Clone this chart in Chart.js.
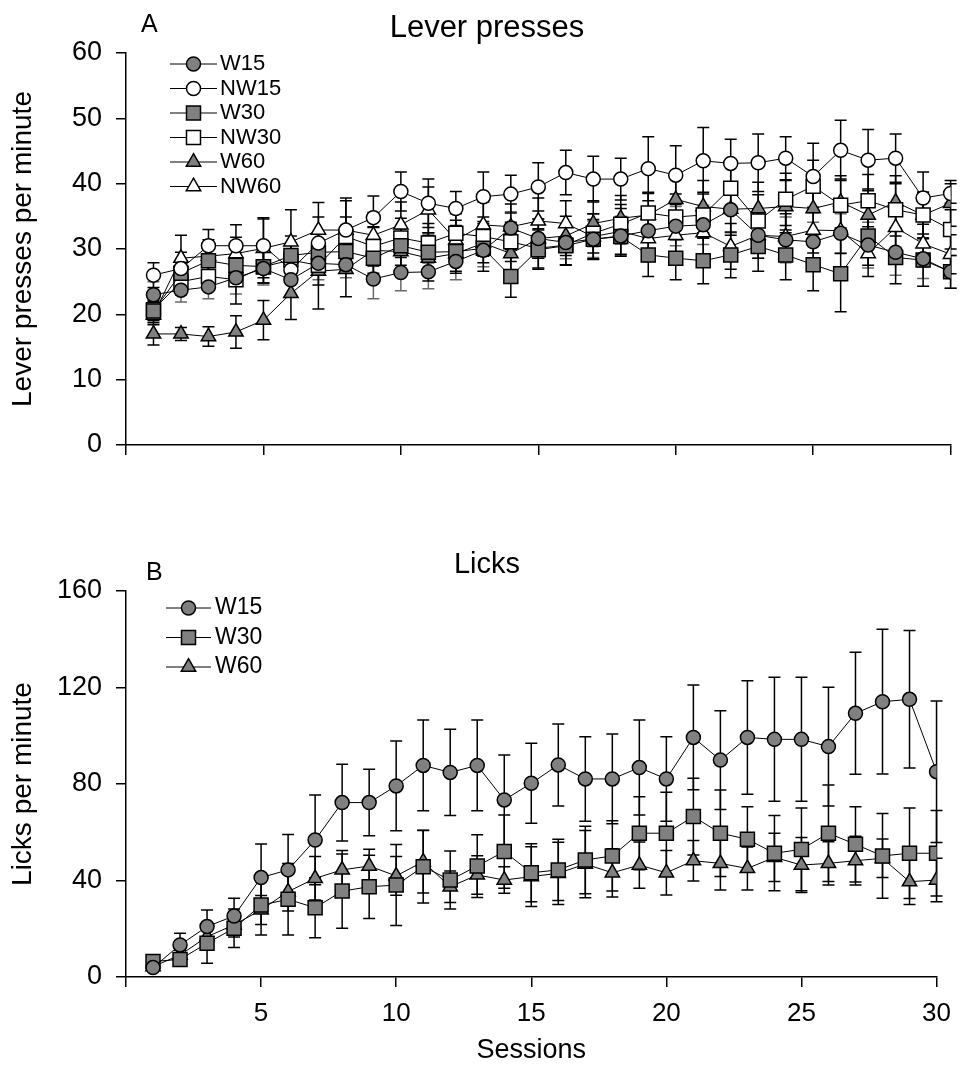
<!DOCTYPE html>
<html>
<head>
<meta charset="utf-8">
<script src="https://cdn.jsdelivr.net/npm/chart.js@4.4.1/dist/chart.umd.min.js"></script>
<style>
  body { margin: 0; background: #fff; }
  #wrap { position: relative; width: 962px; height: 1069px; }
  canvas { position: absolute; left: 0; }
  #leverChart { top: 0; }
  #lickChart { top: 540px; }
</style>
</head>
<body>
<div id="wrap">
  <canvas id="leverChart" width="962" height="480"></canvas>
  <canvas id="lickChart" width="962" height="529"></canvas>
</div>
<script>
// sessions on the x axis
const sessions = [1, 2, 3, 4, 5, 6, 7, 8, 9, 10, 11, 12, 13, 14, 15,
                  16, 17, 18, 19, 20, 21, 22, 23, 24, 25, 26, 27, 28, 29, 30];
const xTicks = [0, 5, 10, 15, 20, 25, 30];
const leverTicks = [0, 10, 20, 30, 40, 50, 60];
const lickTicks = [0, 40, 80, 120, 160];

// A - lever presses per minute (mean, sem)
const leverW15 = [23.0, 23.7, 24.2, 25.6, 27.0, 25.3, 27.8, 27.6, 25.4, 26.4, 26.5, 28.1, 29.8, 33.2, 31.6,
                  31.0, 31.5, 32.0, 32.8, 33.5, 33.7, 36.0, 32.1, 31.4, 31.1, 32.4, 30.6, 29.5, 28.5, 26.5];
const leverW15Sem = [2.0, 1.8, 1.8, 2.5, 2.5, 2.5, 2.5, 2.0, 3.0, 2.8, 2.6, 2.8, 2.5, 2.5, 3.0,
                     2.5, 2.8, 3.0, 3.0, 3.0, 3.0, 3.5, 3.5, 3.5, 3.0, 3.0, 3.5, 3.5, 3.0, 2.5];
const leverNW15 = [26.0, 27.0, 30.5, 30.5, 30.5, 26.8, 30.9, 32.9, 34.8, 38.8, 37.0, 36.2, 38.0, 38.4, 39.5,
                   41.7, 40.7, 40.7, 42.3, 41.3, 43.5, 43.1, 43.2, 43.9, 41.1, 45.1, 43.6, 43.9, 37.8, 38.5];
const leverNW15Sem = [1.9, 2.5, 2.5, 3.2, 4.3, 4.0, 4.0, 4.9, 3.3, 3.0, 3.7, 2.6, 3.8, 2.9, 3.7,
                      3.4, 3.5, 3.2, 4.9, 4.5, 5.1, 3.7, 4.4, 3.3, 5.1, 4.6, 4.7, 3.7, 4.0, 1.5];
const leverW30 = [20.5, 26.3, 28.2, 27.5, 27.3, 29.0, 29.5, 29.6, 28.6, 30.5, 29.5, 29.6, 30.1, 25.8, 29.9,
                  30.5, 31.5, 31.9, 29.1, 28.6, 28.2, 29.1, 30.4, 29.1, 27.6, 26.2, 32.0, 28.7, 28.3, 26.5];
const leverW30Sem = [1.5, 2.0, 2.5, 3.0, 2.5, 3.0, 3.0, 3.0, 3.0, 3.0, 3.0, 3.0, 3.5, 3.2, 3.0,
                     3.0, 3.0, 3.0, 3.3, 3.3, 3.5, 3.5, 3.8, 3.8, 4.0, 5.8, 4.5, 4.0, 4.0, 2.5];
const leverNW30 = [20.7, 25.0, 25.8, 25.3, 27.3, 28.3, 27.5, 31.9, 30.4, 31.7, 30.9, 32.4, 31.9, 31.1, 30.1,
                   30.6, 32.4, 33.8, 35.5, 34.9, 35.2, 39.3, 34.3, 37.6, 39.6, 36.7, 37.4, 36.0, 35.2, 33.0];
const leverNW30Sem = [1.5, 2.0, 2.0, 3.7, 2.5, 2.5, 3.0, 3.0, 3.0, 3.0, 3.0, 3.0, 3.0, 3.0, 3.0,
                      3.0, 3.0, 3.0, 3.0, 3.5, 3.5, 4.0, 4.0, 4.0, 4.0, 4.0, 4.0, 4.0, 3.5, 3.0];
const leverW60 = [17.0, 17.0, 16.6, 17.3, 19.1, 23.2, 26.6, 26.9, 29.8, 29.6, 28.6, 29.3, 30.9, 29.3, 31.6,
                  32.0, 33.9, 34.7, 35.2, 37.6, 36.5, 36.1, 36.2, 36.5, 36.2, 37.2, 35.2, 37.2, 35.2, 37.0];
const leverW60Sem = [1.7, 1.0, 1.5, 2.5, 3.0, 4.0, 5.8, 4.2, 3.5, 3.5, 3.5, 3.0, 3.0, 3.0, 3.0,
                     3.0, 3.5, 3.5, 3.5, 3.8, 4.0, 4.0, 4.0, 4.0, 4.0, 4.0, 4.0, 4.0, 3.5, 3.5];
const leverNW60 = [19.9, 28.6, 28.9, 29.3, 30.1, 31.1, 32.9, 32.9, 32.1, 33.7, 36.0, 31.4, 33.7, 33.4, 34.3,
                   33.9, 31.9, 32.7, 31.6, 32.1, 32.5, 30.4, 32.1, 31.9, 32.9, 32.8, 29.3, 33.3, 30.8, 29.2];
const leverNW60Sem = [1.5, 3.5, 2.5, 2.5, 4.5, 4.9, 4.2, 4.5, 3.5, 3.5, 3.5, 3.0, 3.5, 3.5, 3.5,
                      3.5, 3.5, 3.5, 3.5, 3.5, 3.5, 3.5, 3.5, 3.5, 3.5, 3.5, 3.5, 3.5, 3.5, 3.0];

// B - licks per minute (mean, sem)
const lickW15 = [3.9, 13.3, 20.9, 25.3, 41.2, 44.4, 56.8, 72.3, 72.3, 79.2, 87.7, 84.8, 87.7, 73.4, 80.3,
                 87.9, 82.1, 82.1, 86.8, 82.1, 99.3, 89.9, 99.3, 98.5, 98.5, 95.5, 109.3, 114.1, 115.1, 85.1];
const lickW15Sem = [1.0, 4.8, 6.9, 7.3, 13.9, 14.7, 18.6, 15.9, 13.8, 18.6, 18.8, 17.9, 18.8, 18.6, 16.6,
                    17.0, 17.5, 18.6, 19.7, 17.5, 21.7, 20.5, 23.5, 25.7, 25.7, 24.6, 25.3, 30.0, 28.5, 29.3];
const lickW30 = [6.4, 7.3, 14.0, 20.2, 29.8, 32.2, 28.7, 35.6, 37.4, 38.1, 45.7, 40.2, 46.0, 52.0, 43.2,
                 44.4, 48.5, 50.2, 59.6, 59.6, 66.5, 59.6, 57.1, 51.3, 52.9, 59.6, 55.0, 50.2, 51.3, 51.3];
const lickW30Sem = [1.0, 2.5, 8.3, 8.0, 12.4, 14.8, 12.4, 15.4, 13.1, 16.8, 15.0, 12.0, 13.0, 15.2, 12.0,
                    12.7, 14.0, 14.6, 15.1, 17.0, 15.9, 17.9, 13.5, 15.6, 17.2, 20.0, 15.6, 17.6, 18.8, 17.7];
const lickW60 = [4.3, 9.1, 16.7, 21.6, 27.8, 35.4, 40.9, 44.4, 46.0, 41.9, 47.8, 37.4, 42.3, 40.2, 41.6,
                 43.0, 46.8, 43.2, 46.4, 43.2, 48.2, 47.1, 45.0, 49.6, 46.4, 47.1, 48.2, 49.2, 39.5, 40.2];
const lickW60Sem = [1.0, 2.0, 3.5, 5.0, 6.0, 8.0, 9.0, 8.0, 7.0, 8.0, 13.0, 6.5, 8.0, 5.5, 12.4,
                    12.9, 13.9, 10.0, 9.6, 9.2, 8.4, 11.0, 8.9, 10.0, 11.4, 9.0, 10.1, 8.0, 9.4, 9.0];

const GREY = '#808080';
const WHITE = '#ffffff';
const FONT = "'Liberation Sans', Arial, sans-serif";

function series(label, values, sem, style, fill, radius, errColor) {
    return {
        label: label,
        data: sessions.map((s, i) => ({ x: s, y: values[i] })),
        errors: sem,
        errorColor: errColor || '#000',
        borderColor: '#000',
        borderWidth: 1,
        pointStyle: style,
        pointRadius: radius,
        pointHoverRadius: radius,
        pointBackgroundColor: fill,
        pointBorderColor: '#000',
        pointBorderWidth: 1.5,
        tension: 0,
        fill: false
    };
}

// error bars drawn under the symbols
const errorBars = {
    id: 'errorBars',
    beforeDatasetsDraw(chart) {
        const ctx = chart.ctx;
        const yScale = chart.scales.y;
        ctx.save();
        ctx.lineWidth = 1.5;
        chart.data.datasets.forEach((ds, di) => {
            const meta = chart.getDatasetMeta(di);
            ctx.strokeStyle = ds.errorColor;
            meta.data.forEach((pt, i) => {
                const v = ds.data[i].y;
                const e = ds.errors[i];
                const top = yScale.getPixelForValue(v + e);
                const bot = yScale.getPixelForValue(v - e);
                ctx.beginPath();
                ctx.moveTo(pt.x, top);
                ctx.lineTo(pt.x, bot);
                ctx.moveTo(pt.x - 6, top);
                ctx.lineTo(pt.x + 6, top);
                ctx.moveTo(pt.x - 6, bot);
                ctx.lineTo(pt.x + 6, bot);
                ctx.stroke();
            });
        });
        ctx.restore();
    }
};

// legend with a line running through the symbol
const lineLegend = {
    id: 'lineLegend',
    afterDraw(chart, args, opts) {
        const ctx = chart.ctx;
        const drawPoint = Chart.helpers && Chart.helpers.drawPoint;
        ctx.save();
        ctx.font = opts.fontSize + 'px ' + FONT;
        ctx.textBaseline = 'middle';
        ctx.textAlign = 'left';
        chart.data.datasets.forEach((ds, i) => {
            const y = opts.y + i * opts.rowGap;
            const cx = opts.x + opts.lineLen / 2;
            ctx.strokeStyle = '#000';
            ctx.lineWidth = 1;
            ctx.beginPath();
            ctx.moveTo(opts.x, y);
            ctx.lineTo(opts.x + opts.lineLen, y);
            ctx.stroke();
            ctx.fillStyle = ds.pointBackgroundColor;
            ctx.lineWidth = 1.5;
            if (drawPoint) {
                drawPoint(ctx, { pointStyle: ds.pointStyle, radius: ds.pointRadius, rotation: 0, borderWidth: 1.5 }, cx, y);
            }
            ctx.fillStyle = '#000';
            ctx.fillText(ds.label, opts.x + opts.lineLen + opts.gap, y);
        });
        ctx.restore();
    }
};

// panel letter and panel title
const panelText = {
    id: 'panelText',
    afterDraw(chart, args, opts) {
        const ctx = chart.ctx;
        ctx.save();
        ctx.fillStyle = '#000';
        ctx.textBaseline = 'alphabetic';
        ctx.textAlign = 'left';
        ctx.font = opts.letterSize + 'px ' + FONT;
        ctx.fillText(opts.letter, opts.letterX, opts.letterY);
        ctx.textAlign = 'center';
        ctx.font = opts.titleSize + 'px ' + FONT;
        ctx.fillText(opts.title, opts.titleX, opts.titleY);
        ctx.restore();
    }
};

function makeScales(o) {
    return {
        x: {
            type: 'linear',
            min: xTicks[0],
            max: xTicks[xTicks.length - 1],
            afterFit: s => { s.height = o.xHeight; },
            afterBuildTicks: s => { s.ticks = xTicks.map(v => ({ value: v })); },
            ticks: {
                padding: 11,
                color: '#000',
                maxRotation: 0,
                autoSkip: false,
                font: { size: 26, family: FONT },
                callback: v => (o.xLabels && v !== 0) ? v : ''
            },
            grid: { drawOnChartArea: false, drawTicks: true, tickLength: 10, color: '#000', lineWidth: 1.5 },
            border: { display: true, color: '#000', width: 1.5 },
            title: {
                display: !!o.xTitle,
                text: o.xTitle || '',
                color: '#000',
                font: { size: 27, family: FONT },
                padding: { top: 0, bottom: 2 }
            }
        },
        y: {
            type: 'linear',
            min: o.yTicks[0],
            max: o.yTicks[o.yTicks.length - 1],
            afterFit: s => { s.width = 126; },
            afterBuildTicks: s => { s.ticks = o.yTicks.map(v => ({ value: v })); },
            ticks: {
                padding: 14,
                color: '#000',
                font: { size: 27, family: FONT }
            },
            grid: { drawOnChartArea: false, drawTicks: true, tickLength: 10, color: '#000', lineWidth: 1.5 },
            border: { display: true, color: '#000', width: 1.5 },
            title: {
                display: true,
                text: o.yTitle,
                color: '#000',
                font: { size: 28, family: FONT },
                padding: { top: 6, bottom: 0 }
            }
        }
    };
}

new Chart(document.getElementById('leverChart').getContext('2d'), {
    type: 'line',
    data: {
        datasets: [
            series('W15', leverW15, leverW15Sem, 'circle', GREY, 7, '#6a6a6a'),
            series('NW15', leverNW15, leverNW15Sem, 'circle', WHITE, 7),
            series('W30', leverW30, leverW30Sem, 'rect', GREY, 9.9),
            series('NW30', leverNW30, leverNW30Sem, 'rect', WHITE, 9.9),
            series('W60', leverW60, leverW60Sem, 'triangle', GREY, 8.3),
            series('NW60', leverNW60, leverNW60Sem, 'triangle', WHITE, 8.3)
        ]
    },
    options: {
        responsive: false,
        animation: false,
        layout: { padding: { top: 53, right: 5, bottom: 0, left: 0 } },
        scales: makeScales({ xHeight: 35, xLabels: false, yTicks: leverTicks, yTitle: 'Lever presses per minute' }),
        plugins: {
            legend: { display: false },
            tooltip: { enabled: false },
            lineLegend: { x: 170, y: 64, rowGap: 24.5, lineLen: 47, gap: 3, fontSize: 22 },
            panelText: { letter: 'A', letterX: 141, letterY: 32, letterSize: 25,
                         title: 'Lever presses', titleX: 487, titleY: 37, titleSize: 31 }
        }
    },
    plugins: [errorBars, lineLegend, panelText]
});

new Chart(document.getElementById('lickChart').getContext('2d'), {
    type: 'line',
    data: {
        datasets: [
            series('W15', lickW15, lickW15Sem, 'circle', GREY, 7),
            series('W30', lickW30, lickW30Sem, 'rect', GREY, 9.9),
            series('W60', lickW60, lickW60Sem, 'triangle', GREY, 8.3)
        ]
    },
    options: {
        responsive: false,
        animation: false,
        layout: { padding: { top: 51, right: 22, bottom: 0, left: 0 } },
        scales: makeScales({ xHeight: 92, xLabels: true, xTitle: 'Sessions', yTicks: lickTicks, yTitle: 'Licks per minute' }),
        plugins: {
            legend: { display: false },
            tooltip: { enabled: false },
            lineLegend: { x: 166, y: 68, rowGap: 29.5, lineLen: 45, gap: 4, fontSize: 23 },
            panelText: { letter: 'B', letterX: 146, letterY: 40, letterSize: 25,
                         title: 'Licks', titleX: 487, titleY: 33, titleSize: 29 }
        }
    },
    plugins: [errorBars, lineLegend, panelText]
});
</script>
</body>
</html>
